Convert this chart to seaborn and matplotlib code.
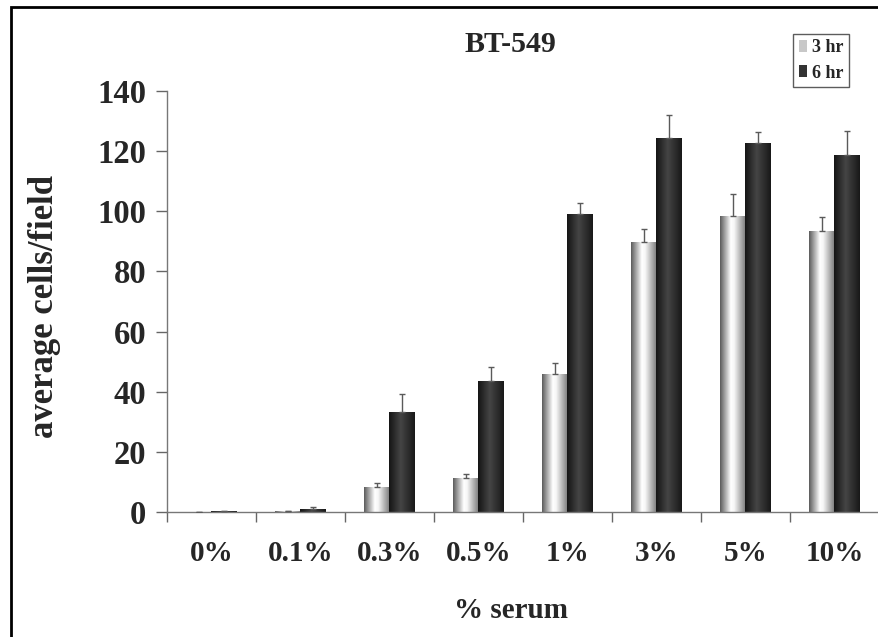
import numpy as np
import pandas as pd
import matplotlib
matplotlib.use("Agg")
import matplotlib.pyplot as plt
import seaborn as sns
from matplotlib.colors import LinearSegmentedColormap
from matplotlib.patches import Patch, Rectangle

# données
serum = ["0%", "0.1%", "0.3%", "0.5%", "1%", "3%", "5%", "10%"]
hr3 = [0, 0.2, 8.3, 11.2, 45.9, 89.9, 98.5, 93.5]
hr3_err = [0, 0, 1.4, 1.3, 3.8, 4.3, 7.2, 4.5]
hr6 = [0.3, 1.0, 33.3, 43.6, 99.0, 124.3, 122.6, 118.8]
hr6_err = [0, 0.5, 5.9, 4.7, 3.7, 7.7, 3.9, 8.0]
series = ["3 hr", "6 hr"]

sns.set_theme(style="white")
plt.rcParams['font.family'] = ['Liberation Serif', 'DejaVu Serif']
plt.rcParams['font.weight'] = 'bold'

df = pd.DataFrame({
    "serum": serum * 2,
    "cells": hr3 + hr6,
    "time": [series[0]] * len(serum) + [series[1]] * len(serum),
})

fig = plt.figure(figsize=(8.79, 6.37), dpi=100)
ax = fig.add_axes([167 / 879, 1 - 512 / 637, (879 - 167) / 879, (512 - 91) / 637])

sns.barplot(data=df, x="serum", y="cells", hue="time", order=serum,
            palette=["#cccccc", "#333333"], width=0.575, ax=ax,
            legend=False, errorbar=None, saturation=1)

# dégradés "cylindre" façon Excel
cm3 = LinearSegmentedColormap.from_list("c3", [(0, "#5a5a5a"), (0.42, "#ffffff"), (0.55, "#f6f6f6"), (1, "#787878")])
cm6 = LinearSegmentedColormap.from_list("c6", [(0, "#141414"), (0.45, "#454545"), (1, "#181818")])
grad = np.linspace(0, 1, 256).reshape(1, -1)

for cont, vals, errs, cm in zip(ax.containers, [hr3, hr6], [hr3_err, hr6_err], [cm3, cm6]):
    xs = []
    for bar in cont:
        x0, w, h = bar.get_x(), bar.get_width(), bar.get_height()
        xs.append(x0 + w / 2)
        bar.set_facecolor("none")
        bar.set_edgecolor("none")
        if h <= 0:
            continue
        im = ax.imshow(grad, extent=[x0, x0 + w, 0, h], aspect="auto", cmap=cm,
                       origin="lower", zorder=2)
        im.set_clip_path(bar)
    ax.errorbar(xs, vals, yerr=[np.zeros(len(errs)), errs], fmt="none",
                ecolor="#5a5a5a", elinewidth=1, capsize=2.5, capthick=1, zorder=3)

ax.set_xlim(-0.5, len(serum) - 0.5)
ax.set_ylim(0, 140)
ax.set_yticks(range(0, 141, 20))
ax.set_xticks(range(len(serum)))
ax.set_xticklabels(serum)
ax.set_xticks(np.arange(-0.5, len(serum), 1), minor=True)
ax.tick_params(axis="x", which="major", length=0, pad=20, labelsize=21)
ax.tick_params(axis="x", which="minor", length=7, width=1, color="#666666", direction="out", bottom=True)
ax.tick_params(axis="y", length=8, width=1, color="#666666", direction="out", left=True, labelsize=23.5, pad=7)
for lab in ax.get_xticklabels() + ax.get_yticklabels():
    lab.set_fontweight("bold")

sns.despine(ax=ax, top=True, right=True)
for s in ["left", "bottom"]:
    ax.spines[s].set_color("#777777")
    ax.spines[s].set_linewidth(1)
ax.set_xlabel("")
ax.set_ylabel("")

fig.text(45 / 879, 1 - 307 / 637, "average cells/field", rotation=90, ha="center", va="center",
         fontsize=25, fontweight="bold")
fig.text(511 / 879, 1 - 610 / 637, "% serum", ha="center", va="center", fontsize=21, fontweight="bold")
fig.text(510 / 879, 1 - 44 / 637, "BT-549", ha="center", va="center", fontsize=21.5, fontweight="bold")

handles = [Patch(facecolor="#c8c8c8", edgecolor="none"), Patch(facecolor="#333333", edgecolor="none")]
leg = fig.legend(handles, series, loc="upper right", bbox_to_anchor=(849 / 879, 1 - 34 / 637),
                 prop={"weight": "bold", "size": 13}, frameon=True, fancybox=False,
                 handlelength=0.45, handleheight=0.6, handletextpad=0.3, borderpad=0.3,
                 labelspacing=0.45, borderaxespad=0)
leg.get_frame().set_edgecolor("#333333")
leg.get_frame().set_linewidth(1)

# cadre extérieur (coordonnées pixels, origine en bas)
fig.patches.append(Rectangle((11, -100), 900, 637 - 7 + 100, transform=None, fill=False,
                             edgecolor="black", linewidth=2))

fig.savefig("out.png", dpi=100)
